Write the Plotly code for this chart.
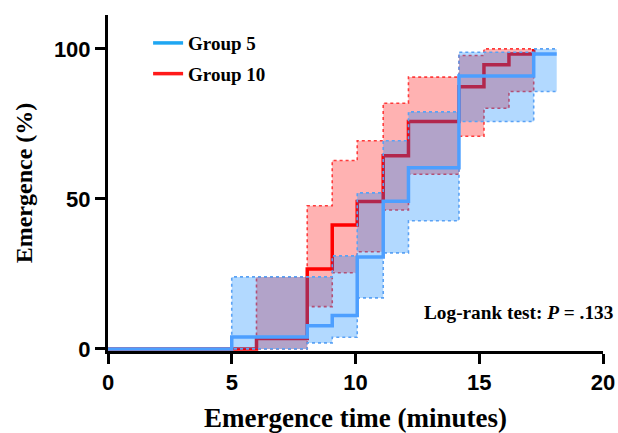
import plotly.graph_objects as go

# Group 5 (blue) Kaplan-Meier style cumulative emergence
times_5 = [0, 5.0, 8.05, 9.06, 10.07, 11.12, 12.14, 14.18, 17.2, 18.13]
emerg_5 = [0, 4.0, 7.7, 11.1, 30.6, 49.2, 60.4, 91.0, 98.3, 98.3]
lower_5 = [0, 0, 2.0, 3.9, 17.0, 32.0, 42.7, 75.8, 85.8, 85.8]
upper_5 = [0, 24.0, 24.0, 31.0, 52.0, 69.4, 79.0, 98.9, 100.0, 100.0]

# Group 10 (red)
times_10 = [0, 6.0, 8.05, 9.06, 10.07, 11.12, 12.14, 14.18, 15.19, 16.2, 17.2]
emerg_10 = [0, 3.5, 26.6, 41.3, 49.1, 64.4, 75.8, 87.4, 94.7, 98.3, 100.0]
lower_10 = [0, 0, 14.1, 25.4, 32.4, 46.3, 58.2, 70.9, 80.2, 85.8, 100.0]
upper_10 = [0, 24.0, 47.7, 62.8, 69.4, 81.9, 90.6, 97.8, 100.0, 100.0, 100.0]

x_ticks = [0, 5, 10, 15, 20]
y_ticks = [0, 50, 100]

serif = "Liberation Serif"
sans = "Liberation Sans"

fig = go.Figure()

# Red CI band
fig.add_trace(go.Scatter(x=times_10, y=lower_10, mode="lines", line_shape="hv",
                         line=dict(color="#ff3b3b", width=1.6, dash="dot"),
                         showlegend=False, hoverinfo="skip"))
fig.add_trace(go.Scatter(x=times_10, y=upper_10, mode="lines", line_shape="hv",
                         line=dict(color="#ff3b3b", width=1.6, dash="dot"),
                         fill="tonexty", fillcolor="rgba(255,0,0,0.30)",
                         showlegend=False, hoverinfo="skip"))
# Red line
fig.add_trace(go.Scatter(x=times_10, y=emerg_10, mode="lines", line_shape="hv",
                         line=dict(color="#ff0000", width=3.5),
                         showlegend=False))
# Blue CI band
fig.add_trace(go.Scatter(x=times_5, y=lower_5, mode="lines", line_shape="hv",
                         line=dict(color="#5aa2f5", width=1.6, dash="dot"),
                         showlegend=False, hoverinfo="skip"))
fig.add_trace(go.Scatter(x=times_5, y=upper_5, mode="lines", line_shape="hv",
                         line=dict(color="#5aa2f5", width=1.6, dash="dot"),
                         fill="tonexty", fillcolor="rgba(0,128,255,0.30)",
                         showlegend=False, hoverinfo="skip"))
# Blue line
fig.add_trace(go.Scatter(x=times_5, y=emerg_5, mode="lines", line_shape="hv",
                         line=dict(color="#4d9fff", width=3.5),
                         showlegend=False))

# Legend entries
fig.add_trace(go.Scatter(x=[None], y=[None], mode="lines", name="Group 5",
                         legendgroup="g5", line=dict(color="#1ea6f2", width=3.5)))
fig.add_trace(go.Scatter(x=[None], y=[None], mode="lines", name="Group 10",
                         legendgroup="g10", line=dict(color="#ff1a1a", width=3.5)))

fig.add_annotation(text="Log-rank test: <i>P</i> = .133", xref="paper", yref="paper",
                   x=0.635, y=0.114, xanchor="left", yanchor="middle", showarrow=False,
                   font=dict(family=serif, size=19.3, color="black", weight="bold"))

fig.update_layout(
    width=618, height=433,
    margin=dict(l=108, r=15, t=15, b=82),
    plot_bgcolor="white", paper_bgcolor="white",
    legend=dict(x=0.081, y=0.973, xanchor="left", yanchor="top",
                font=dict(family=serif, size=19, color="black", weight="bold"),
                bgcolor="rgba(0,0,0,0)", tracegroupgap=3, itemwidth=30),
    xaxis=dict(range=[0, 20], tickvals=x_ticks, showline=True, linewidth=3,
               linecolor="black", ticks="outside", ticklen=10, tickwidth=3,
               tickcolor="black", showgrid=False, zeroline=False, automargin=False,
               tickfont=dict(family=sans, size=22, color="black", weight="bold"),
               title=dict(text="Emergence time (minutes)",
                          font=dict(family=serif, size=27, color="black", weight="bold"))),
    yaxis=dict(range=[-0.7, 111.3], tickvals=y_ticks, showline=True, linewidth=3,
               linecolor="black", ticks="outside", ticklen=10, tickwidth=3,
               tickcolor="black", showgrid=False, zeroline=False, automargin=False,
               tickfont=dict(family=sans, size=22, color="black", weight="bold"),
               title=dict(text="Emergence (%)",
                          font=dict(family=serif, size=24, color="black", weight="bold"))),
)

fig.write_html("out.html")
